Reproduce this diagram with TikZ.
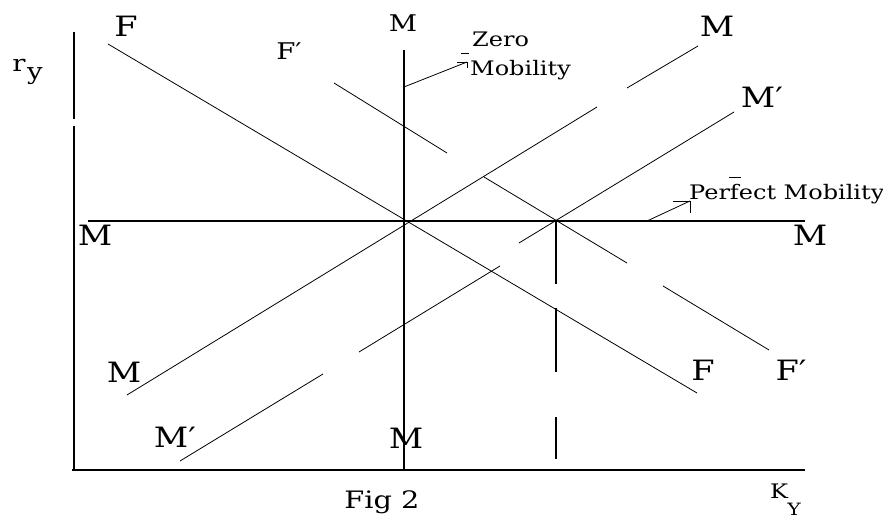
\documentclass[tikz,border=0pt]{standalone}
\usepackage{fontspec}
\setmainfont{DejaVu Serif}[FakeStretch=1.2]
\begin{document}
\begin{tikzpicture}[x=1pt,y=-1pt,
  thinline/.style={line width=0.8pt},
  axisline/.style={line width=1.3pt},
  biglbl/.style={font=\fontsize{28}{28}\selectfont, inner sep=0pt, anchor=base},
  midlbl/.style={font=\fontsize{23}{23}\selectfont, inner sep=0pt, anchor=base},
  txtlbl/.style={font=\fontsize{20}{20}\selectfont, inner sep=0pt, anchor=base west}]
\useasboundingbox[fill=white] (0,0) rectangle (883,518);

% axes
\coordinate (ya1) at (74,32);  \coordinate (ya2) at (74,119);
\coordinate (ya3) at (74,126); \coordinate (ya4) at (74,470);
\coordinate (xa1) at (72,470); \coordinate (xa2) at (805,470);
\draw[axisline] (ya1) -- (ya2);
\draw[axisline] (ya3) -- (ya4);
\draw[axisline] (xa1) -- (xa2);

% horizontal MM (perfect mobility) and vertical MM (zero mobility)
\coordinate (hm1) at (88,221);  \coordinate (hm2) at (805,221);
\coordinate (vm1) at (404,50);  \coordinate (vm2) at (404,470);
\draw[axisline] (hm1) -- (hm2);
\draw[axisline] (vm1) -- (vm2);

% F line
\coordinate (f1) at (108,44); \coordinate (f2) at (697,393);
\draw[thinline] (f1) -- (f2);

% F' line (broken)
\coordinate (fp1) at (334,83);  \coordinate (fp2) at (447,153);
\coordinate (fp3) at (484,177); \coordinate (fp4) at (627,263);
\coordinate (fp5) at (663,286); \coordinate (fp6) at (769,350);
\draw[thinline] (fp1) -- (fp2);
\draw[thinline] (fp3) -- (fp4);
\draw[thinline] (fp5) -- (fp6);

% M line (upward sloping)
\coordinate (m1) at (127,395); \coordinate (m2) at (597,107);
\coordinate (m3) at (627,88);  \coordinate (m4) at (698,46);
\draw[thinline] (m1) -- (m2);
\draw[thinline] (m3) -- (m4);

% M' line (broken)
\coordinate (mp1) at (180,461); \coordinate (mp2) at (323,374);
\coordinate (mp3) at (359,352); \coordinate (mp4) at (500,266);
\coordinate (mp5) at (519,243); \coordinate (mp6) at (734,112);
\draw[thinline] (mp1) -- (mp2);
\draw[thinline] (mp3) -- (mp4);
\draw[thinline] (mp5) -- (mp6);

% dashed vertical
\coordinate (d1) at (556,221); \coordinate (d2) at (556,284);
\coordinate (d3) at (556,308); \coordinate (d4) at (556,372);
\coordinate (d5) at (556,417); \coordinate (d6) at (556,459);
\draw[axisline] (d1) -- (d2);
\draw[axisline] (d3) -- (d4);
\draw[axisline] (d5) -- (d6);

% arrows
\coordinate (za) at (404,87); \coordinate (zt) at (467,62);
\draw[thinline] (za) -- (zt);
\draw[thinline] (zt) -- ++(-10,0);
\draw[thinline] (zt) -- ++(0,6);
\draw[thinline] (461,53) -- (469,53);
\coordinate (pa) at (647,221); \coordinate (pt) at (690,201);
\draw[thinline] (pa) -- (pt);
\draw[thinline] (pt) -- ++(-17,0);
\draw[thinline] (pt) -- ++(0,12);
\draw[thinline] (729,177) -- (741,177);

% labels
\node[biglbl] (lF) at (126,37) {F};
\node[midlbl] (lFp) at (289,60) {F′};
\node[midlbl] (lMtop) at (403,32) {M};
\node[biglbl] (lMtr) at (717,37) {M};
\node[biglbl] (lMp) at (762,108) {M′};
\node[biglbl] (lMl) at (95,246) {M};
\node[biglbl] (lMr) at (810,246) {M};
\node[biglbl] (lMll) at (124,382) {M};
\node[biglbl] (lMpll) at (175,447) {M′};
\node[biglbl] (lMb) at (406,448) {M};
\node[biglbl] (lFb) at (703,380) {F};
\node[biglbl] (lFpb) at (791,380) {F′};
\node[font=\fontsize{23}{23}\selectfont, inner sep=0pt, anchor=base] (lr) at (19,72) {r};
\node[font=\fontsize{23}{23}\selectfont, inner sep=0pt, anchor=base] (ly) at (35,80) {y};
\node[font=\fontsize{20}{20}\selectfont, inner sep=0pt, anchor=base] (lK) at (779,498) {K};
\node[font=\fontsize{17}{17}\selectfont, inner sep=0pt, anchor=base] (lY) at (794,515) {Y};
\node[font=\fontsize{24}{24}\selectfont, inner sep=0pt, anchor=base] (lfig) at (382,508) {Fig 2};
\node[txtlbl] (lzero) at (472,47) {Zero};
\node[txtlbl] (lmob) at (470,76) {Mobility};
\node[txtlbl] (lperf) at (689,200) {Perfect Mobility};
\end{tikzpicture}
\end{document}
